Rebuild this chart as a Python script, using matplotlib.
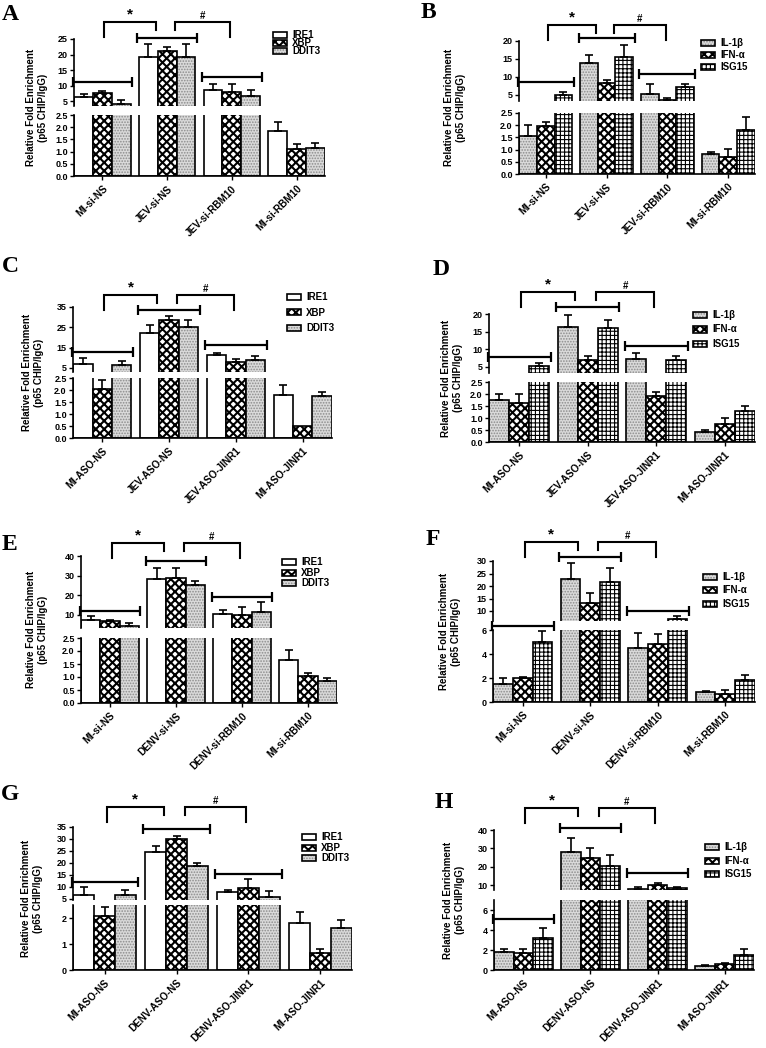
import numpy as np
import matplotlib.pyplot as plt
from matplotlib.patches import Rectangle
from matplotlib.transforms import blended_transform_factory

W_PX, H_PX = 766, 1048
plt.rcParams['font.family'] = ['Liberation Sans', 'DejaVu Sans']
plt.rcParams['font.weight'] = 'bold'

# ---- data (mean, upper SEM) ----
er_series = ["IRE1", "XBP", "DDIT3"]
cy_series = ["IL-1β", "IFN-α", "ISG15"]

groups_A = ["MI-si-NS", "JEV-si-NS", "JEV-si-RBM10", "MI-si-RBM10"]
mean_A = [[6.3, 19.3, 8.5, 1.86], [7.7, 21.0, 7.9, 1.10], [4.0, 19.3, 6.5, 1.13]]
sem_A = [[0.9, 4.2, 2.1, 0.37], [0.5, 1.4, 2.5, 0.21], [1.2, 4.1, 2.0, 0.21]]

groups_B = ["MI-si-NS", "JEV-si-NS", "JEV-si-RBM10", "MI-si-RBM10"]
mean_B = [[1.57, 14.0, 5.3, 0.81], [1.95, 8.2, 3.6, 0.71], [5.0, 15.5, 7.1, 1.81]]
sem_B = [[0.45, 2.1, 2.7, 0.08], [0.18, 0.9, 0.4, 0.31], [0.9, 3.4, 0.8, 0.51]]

groups_C = ["MI-ASO-NS", "JEV-ASO-NS", "JEV-ASO-JINR1", "MI-ASO-JINR1"]
mean_C = [[7.0, 22.2, 11.2, 1.80], [2.06, 28.4, 8.0, 0.50], [6.6, 25.0, 8.9, 1.75]]
sem_C = [[2.9, 4.1, 1.2, 0.42], [0.36, 2.2, 1.6, 0.0], [1.7, 3.4, 1.8, 0.17]]

groups_D = ["MI-ASO-NS", "JEV-ASO-NS", "JEV-ASO-JINR1", "MI-ASO-JINR1"]
mean_D = [[1.74, 16.3, 7.4, 0.41], [1.61, 7.1, 1.92, 0.74], [5.2, 16.0, 7.1, 1.30]]
sem_D = [[0.24, 3.5, 1.7, 0.10], [0.37, 1.1, 0.17, 0.25], [0.9, 2.4, 1.0, 0.21]]

groups_E = ["MI-si-NS", "DENV-si-NS", "DENV-si-RBM10", "MI-si-RBM10"]
mean_E = [[7.1, 28.1, 10.3, 1.65], [6.6, 29.0, 9.7, 1.02], [4.1, 25.3, 11.2, 0.85]]
sem_E = [[2.1, 5.6, 1.9, 0.38], [0.9, 4.7, 4.0, 0.12], [1.5, 2.0, 5.2, 0.10]]

groups_F = ["MI-si-NS", "DENV-si-NS", "DENV-si-RBM10", "MI-si-RBM10"]
mean_F = [[1.54, 22.8, 4.47, 0.84], [1.96, 13.3, 4.8, 0.70], [4.97, 21.7, 6.8, 1.82]]
sem_F = [[0.46, 6.5, 1.31, 0.08], [0.14, 3.8, 0.87, 0.33], [0.95, 5.6, 1.2, 0.47]]

groups_G = ["MI-ASO-NS", "DENV-ASO-NS", "DENV-ASO-JINR1", "MI-ASO-JINR1"]
mean_G = [[6.7, 24.7, 7.8, 1.81], [2.06, 30.0, 9.5, 0.67], [6.4, 18.7, 5.6, 1.61]]
sem_G = [[3.1, 2.5, 0.6, 0.41], [0.35, 1.2, 3.9, 0.13], [2.0, 1.4, 2.5, 0.30]]

groups_H = ["MI-ASO-NS", "DENV-ASO-NS", "DENV-ASO-JINR1", "MI-ASO-JINR1"]
mean_H = [[1.77, 28.2, 8.0, 0.40], [1.67, 24.5, 10.0, 0.57], [3.23, 20.5, 8.3, 1.50]]
sem_H = [[0.30, 7.6, 0.8, 0.10], [0.40, 5.9, 1.3, 0.16], [1.0, 5.9, 0.6, 0.60]]

# comparison bars over groups: (group, height, axis part)
hbar_A = [(0, 11.2, "top"), (1, 25.3, "top"), (2, 12.6, "top")]
hbar_B = [(0, 8.5, "top"), (1, 20.7, "top"), (2, 10.8, "top")]
hbar_C = [(0, 12.9, "top"), (1, 33.7, "top"), (2, 16.5, "top")]
hbar_D = [(0, 7.9, "top"), (1, 21.9, "top"), (2, 11.0, "top")]
hbar_E = [(0, 12.0, "top"), (1, 37.5, "top"), (2, 19.3, "top")]
hbar_F = [(0, 6.35, "bot"), (1, 31.7, "top"), (2, 10.0, "top")]
hbar_G = [(0, 11.9, "top"), (1, 34.3, "top"), (2, 15.2, "top")]
hbar_H = [(0, 5.07, "bot"), (1, 40.9, "top"), (2, 16.4, "top")]

PANELS = {
    "A": dict(groups=groups_A, series=er_series, mean=mean_A, sem=sem_A, hbars=hbar_A,
              top_lim=(3.4, 25), top_ticks=[5, 10, 15, 20, 25],
              bot_lim=(0, 2.5), bot_ticks=[0, 0.5, 1, 1.5, 2, 2.5], fmt="%.1f"),
    "B": dict(groups=groups_B, series=cy_series, mean=mean_B, sem=sem_B, hbars=hbar_B,
              top_lim=(3.3, 20), top_ticks=[5, 10, 15, 20],
              bot_lim=(0, 2.5), bot_ticks=[0, 0.5, 1, 1.5, 2, 2.5], fmt="%.1f"),
    "C": dict(groups=groups_C, series=er_series, mean=mean_C, sem=sem_C, hbars=hbar_C,
              top_lim=(3.0, 35), top_ticks=[5, 15, 25, 35],
              bot_lim=(0, 2.5), bot_ticks=[0, 0.5, 1, 1.5, 2, 2.5], fmt="%.1f"),
    "D": dict(groups=groups_D, series=cy_series, mean=mean_D, sem=sem_D, hbars=hbar_D,
              top_lim=(3.3, 20), top_ticks=[5, 10, 15, 20],
              bot_lim=(0, 2.5), bot_ticks=[0, 0.5, 1, 1.5, 2, 2.5], fmt="%.1f"),
    "E": dict(groups=groups_E, series=er_series, mean=mean_E, sem=sem_E, hbars=hbar_E,
              top_lim=(3.2, 40), top_ticks=[10, 20, 30, 40],
              bot_lim=(0, 2.5), bot_ticks=[0, 0.5, 1, 1.5, 2, 2.5], fmt="%.1f"),
    "F": dict(groups=groups_F, series=cy_series, mean=mean_F, sem=sem_F, hbars=hbar_F,
              top_lim=(6, 30), top_ticks=[10, 15, 20, 25, 30],
              bot_lim=(0, 6), bot_ticks=[0, 2, 4, 6], fmt="%d"),
    "G": dict(groups=groups_G, series=er_series, mean=mean_G, sem=sem_G, hbars=hbar_G,
              top_lim=(4.4, 35), top_ticks=[5, 10, 15, 20, 25, 30, 35],
              bot_lim=(0, 2.5), bot_ticks=[0, 1, 2], fmt="%d"),
    "H": dict(groups=groups_H, series=cy_series, mean=mean_H, sem=sem_H, hbars=hbar_H,
              top_lim=(7.3, 40), top_ticks=[10, 20, 30, 40],
              bot_lim=(0, 7), bot_ticks=[0, 2, 4, 6], fmt="%d"),
}

# pixel layout: (left, right, top-axis top, top-axis bottom, bottom-axis top, bottom-axis bottom)
LAYOUT = {
    "A": dict(box=(74, 325, 39, 106, 115, 176), ylab=37, letter=(2, 20), leg=(273, 35, 8), brk=17),
    "B": dict(box=(519, 755, 41, 101, 113, 174), ylab=455, letter=(421, 18), leg=(701, 43, 12), brk=16),
    "C": dict(box=(73, 332, 307, 372, 378, 438), ylab=33, letter=(2, 272), leg=(287, 297, 15.5), brk=12),
    "D": dict(box=(489, 755, 314, 373, 382, 442), ylab=452, letter=(433, 275), leg=(693, 315, 14.5), brk=22),
    "E": dict(box=(81, 337, 556, 628, 638, 703), ylab=37, letter=(2, 550), leg=(282, 562, 10.5), brk=13),
    "F": dict(box=(493, 755, 561, 621, 630, 702), ylab=450, letter=(426, 545), leg=(703, 577, 13.3), brk=19),
    "G": dict(box=(73, 352, 827, 900, 905, 970), ylab=32, letter=(1, 800), leg=(302, 837, 10.7), brk=20),
    "H": dict(box=(494, 754, 830, 890, 900, 970), ylab=454, letter=(435, 808), leg=(705, 847, 13.5), brk=22),
}

DOTS = dict(face="#dadada", hatch="......", hcolor="#8c8c8c", hlw=0.8)
CHECK = dict(face="white", hatch="xxxx", hcolor="black", hlw=1.5)
STYLES = {
    "IRE1": dict(face="white", hatch=None),
    "XBP": CHECK,
    "DDIT3": DOTS,
    "IL-1β": DOTS,
    "IFN-α": CHECK,
    "ISG15": dict(face="white", hatch="++++", hcolor="black", hlw=0.8),
}

BAR_W = 0.29
XLIM = (-0.44, 3.44)
FS = 6.5
FS_X = 7.2
LW = 1.2

fig = plt.figure(figsize=(W_PX / 100, H_PX / 100), dpi=100)


def fx(x):
    return x / W_PX


def fy(y):
    return 1 - y / H_PX


def px_axes(left, right, top, bottom):
    return fig.add_axes([fx(left), fy(bottom), (right - left) / W_PX, (bottom - top) / H_PX])


def hatch_lw(patches, lw):
    for p in patches:
        if hasattr(p, "set_hatch_linewidth"):
            p.set_hatch_linewidth(lw)


def styled_bar(ax, x, h, name):
    st = STYLES[name]
    if st["hatch"]:
        with plt.rc_context({"hatch.linewidth": st["hlw"]}):
            under = ax.bar(x, h, BAR_W, color=st["face"], edgecolor=st["hcolor"],
                           hatch=st["hatch"], linewidth=0)
        hatch_lw(under, st["hlw"])
    else:
        ax.bar(x, h, BAR_W, color=st["face"], linewidth=0)
    ax.bar(x, h, BAR_W, fill=False, edgecolor="black", linewidth=LW)


def upper_err(ax, x, mean, sem, lo, hi):
    # only the caps that fall inside this part of the broken axis
    mean = np.asarray(mean, float)
    sem = np.asarray(sem, float)
    cap = mean + sem
    span = hi - lo
    keep = (cap > lo + 0.04 * span) & (cap <= hi) & (sem > 0)
    if keep.any():
        ax.errorbar(x[keep], mean[keep], yerr=[np.zeros(keep.sum()), sem[keep]], fmt="none",
                    ecolor="black", elinewidth=LW, capsize=3, capthick=LW)


def legend_patch(x, yc, name, w=14, h=6):
    st = STYLES[name]
    if st["hatch"]:
        with plt.rc_context({"hatch.linewidth": st["hlw"]}):
            r = Rectangle((fx(x), fy(yc + h / 2)), w / W_PX, h / H_PX, transform=fig.transFigure,
                          facecolor=st["face"], edgecolor=st["hcolor"], hatch=st["hatch"], linewidth=0)
        hatch_lw([r], st["hlw"])
        fig.add_artist(r)
    fig.add_artist(Rectangle((fx(x), fy(yc + h / 2)), w / W_PX, h / H_PX, transform=fig.transFigure,
                             facecolor="none" if st["hatch"] else st["face"],
                             edgecolor="black", linewidth=LW))
    fig.text(fx(x + w + 5), fy(yc), name, fontsize=FS + 0.5, va="center", ha="left")


def draw_panel(key):
    d = PANELS[key]
    lay = LAYOUT[key]
    left, right, t_top, t_bot, b_top, b_bot = lay["box"]
    ax_t = px_axes(left, right, t_top, t_bot)
    ax_b = px_axes(left, right, b_top, b_bot)
    x = np.arange(len(d["groups"]))

    for ax, lim in ((ax_t, d["top_lim"]), (ax_b, d["bot_lim"])):
        for i, name in enumerate(d["series"]):
            xi = x + (i - 1) * BAR_W
            styled_bar(ax, xi, d["mean"][i], name)
            upper_err(ax, xi, d["mean"][i], d["sem"][i], *lim)
        ax.set_xlim(*XLIM)
        ax.set_ylim(*lim)
        for s in ("top", "right"):
            ax.spines[s].set_visible(False)
        ax.spines["left"].set_linewidth(LW)
        ax.spines["bottom"].set_linewidth(LW)
        ax.tick_params(axis="y", length=3, width=1, labelsize=FS, pad=1.5)

    ax_t.set_yticks(d["top_ticks"])
    ax_t.set_yticklabels([str(v) for v in d["top_ticks"]])
    ax_t.spines["bottom"].set_visible(False)
    ax_t.set_xticks([])

    ax_b.set_yticks(d["bot_ticks"])
    ax_b.set_yticklabels([d["fmt"] % v for v in d["bot_ticks"]])
    ax_b.set_xticks(x)
    ax_b.set_xticklabels(d["groups"], rotation=45, ha="right", rotation_mode="anchor", fontsize=FS_X)
    ax_b.tick_params(axis="x", length=3, width=1, pad=2.5)

    # comparison bars over groups
    for g, yv, part in d["hbars"]:
        ax = ax_t if part == "top" else ax_b
        cont = ax.errorbar(g, yv, xerr=0.46, fmt="none", ecolor="black", elinewidth=1.6,
                           capsize=3.5, capthick=1.6)
        for art in cont.get_children():
            art.set_clip_on(False)

    # significance brackets
    h_px = t_bot - t_top
    tr = blended_transform_factory(ax_t.transData, ax_t.transAxes)
    ytop = 1 + lay["brk"] / h_px
    long_leg = ytop - 15 / h_px
    short_leg = ytop - 8 / h_px
    for (x0, x1, yl, yr, mark, fs) in [(0.03, 0.82, long_leg, short_leg, "*", 11),
                                        (1.12, 1.97, short_leg, long_leg, "#", 7)]:
        ax_t.plot([x0, x0, x1, x1], [yl, ytop, ytop, yr], color="black", lw=1.5,
                  transform=tr, clip_on=False, solid_joinstyle="miter")
        ax_t.text((x0 + x1) / 2, ytop + 1 / h_px, mark, transform=tr, ha="center", va="bottom",
                  fontsize=fs)

    # y label
    fig.text(fx(lay["ylab"]), fy((t_top + b_bot) / 2), "Relative Fold Enrichment\n(p65 CHIP/IgG)",
             rotation=90, ha="center", va="center", fontsize=FS + 0.5, linespacing=1.35)

    # legend
    lx, ly, dy = lay["leg"]
    for i, name in enumerate(d["series"]):
        legend_patch(lx, ly + i * dy, name)

    # panel letter
    fig.text(fx(lay["letter"][0]), fy(lay["letter"][1]), key, fontsize=17, fontweight="bold",
             family=["Liberation Serif", "DejaVu Serif"], ha="left", va="baseline")


for k in PANELS:
    draw_panel(k)

fig.savefig("out.png", dpi=100)
